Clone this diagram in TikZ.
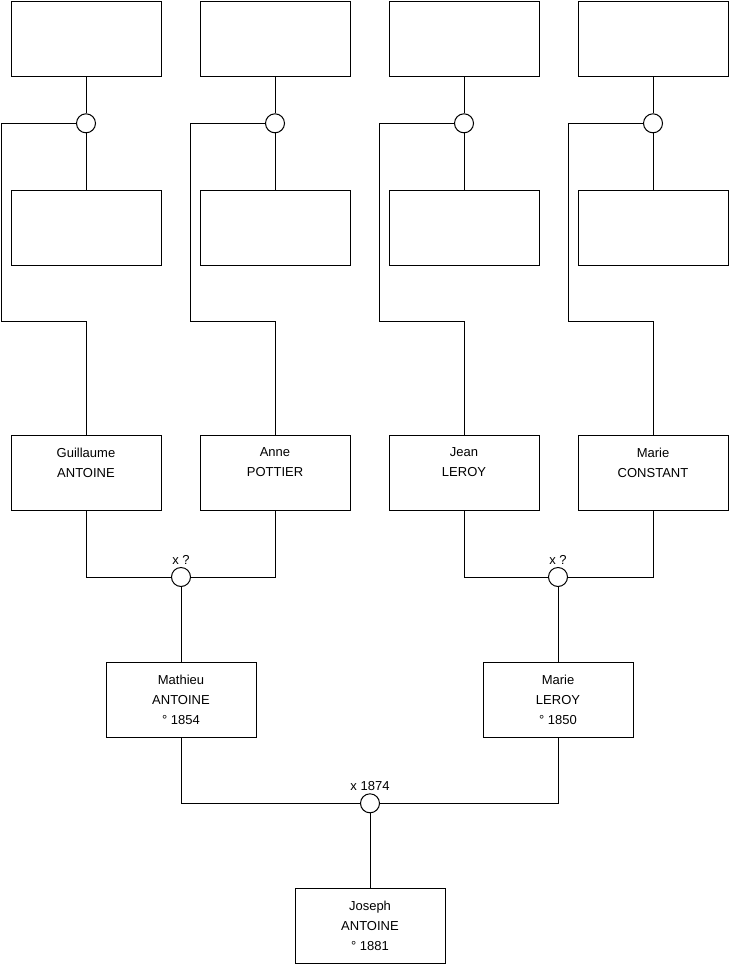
\documentclass[tikz,border=0pt]{standalone}
\usepackage{fontspec}
\setmainfont{Liberation Sans}
\begin{document}
\begin{tikzpicture}[x=0.75pt,y=0.75pt,yscale=-1,xscale=1,
    person/.style={draw, line width=0.75pt, minimum width=112.5pt, minimum height=56.25pt, inner sep=0pt, align=center, font=\fontsize{9.75}{15}\selectfont},
    union/.style={draw, circle, fill=white, line width=0.75pt, minimum size=14.25pt, inner sep=0pt},
    when/.style={font=\fontsize{9.75}{12}\selectfont, inner sep=2pt},
    link/.style={line width=0.75pt}]
    \useasboundingbox (0,0) rectangle (740,975);
    % great-grandparents (unknown)
    \node [person] (gp1) at (86,38.5) {};
    \node [person] (gp2) at (275,38.5) {};
    \node [person] (gp3) at (464,38.5) {};
    \node [person] (gp4) at (653,38.5) {};
    \node [person] (gm1) at (86,227.5) {};
    \node [person] (gm2) at (275,227.5) {};
    \node [person] (gm3) at (464,227.5) {};
    \node [person] (gm4) at (653,227.5) {};
    \node [union] (u1) at (86,123.3) {};
    \node [union] (u2) at (275,123.3) {};
    \node [union] (u3) at (464,123.3) {};
    \node [union] (u4) at (653,123.3) {};
    % grandparents
    \node [person] (guillaume) at (86,472.5) {Guillaume\\ANTOINE\\~};
    \node [person] (anne) at (275,472.5) {Anne\\POTTIER\\~};
    \node [person] (jean) at (464,472.5) {Jean\\LEROY\\~};
    \node [person] (marieC) at (653,472.5) {Marie\\CONSTANT\\~};
    \node [union, label={[when]above:x ?}] (m1) at (181,577) {};
    \node [union, label={[when]above:x ?}] (m2) at (558,577) {};
    % parents
    \node [person] (mathieu) at (181,699.5) {Mathieu\\ANTOINE\\° 1854};
    \node [person] (marieL) at (558,699.5) {Marie\\LEROY\\° 1850};
    \node [union, label={[when]above:x 1874}] (m3) at (370,803.3) {};
    \node [person] (joseph) at (370,926) {Joseph\\ANTOINE\\° 1881};
    % bends
    \coordinate (k1) at (1.5,321.7);
    \coordinate (k2) at (190.5,321.7);
    \coordinate (k3) at (379.5,321.7);
    \coordinate (k4) at (568.5,321.7);
    % links
    \draw [link] (gp1.south) -- (u1.north);
    \draw [link] (u1.south) -- (gm1.north);
    \draw [link] (u1.west) -| (k1) -| (guillaume.north);
    \draw [link] (gp2.south) -- (u2.north);
    \draw [link] (u2.south) -- (gm2.north);
    \draw [link] (u2.west) -| (k2) -| (anne.north);
    \draw [link] (gp3.south) -- (u3.north);
    \draw [link] (u3.south) -- (gm3.north);
    \draw [link] (u3.west) -| (k3) -| (jean.north);
    \draw [link] (gp4.south) -- (u4.north);
    \draw [link] (u4.south) -- (gm4.north);
    \draw [link] (u4.west) -| (k4) -| (marieC.north);
    \draw [link] (guillaume.south) |- (m1.west);
    \draw [link] (anne.south) |- (m1.east);
    \draw [link] (m1.south) -- (mathieu.north);
    \draw [link] (jean.south) |- (m2.west);
    \draw [link] (marieC.south) |- (m2.east);
    \draw [link] (m2.south) -- (marieL.north);
    \draw [link] (mathieu.south) |- (m3.west);
    \draw [link] (marieL.south) |- (m3.east);
    \draw [link] (m3.south) -- (joseph.north);
\end{tikzpicture}
\end{document}
